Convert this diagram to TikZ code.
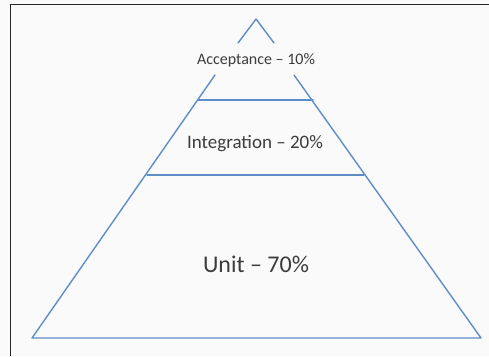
\documentclass[tikz,border=0pt]{standalone}
\usepackage{fontspec}
\setmainfont{Carlito}
\definecolor{pyrblue}{RGB}{96,140,200}
\definecolor{txtgray}{RGB}{60,60,60}
\definecolor{bgwhite}{RGB}{250,250,250}
\tikzset{
  pyr/.style={draw=pyrblue, line width=1.4pt, line cap=round, line join=round},
  lbl/.style={text=txtgray, inner sep=0pt, anchor=center},
  frame/.style={draw=black!85, line width=1.5pt}
}
\begin{document}
\begin{tikzpicture}[x=1pt,y=-1pt]
\useasboundingbox (0,0) rectangle (489,356);
\fill[bgwhite] (0,0) rectangle (489,356);
% frame
\draw[frame] (10.5,356) -- (10.5,4.5) -- (489,4.5);
% corners
\coordinate (apex) at (256,19);
\coordinate (al) at (238,43);
\coordinate (ar) at (274,43);
\coordinate (bl1) at (215,75);
\coordinate (br1) at (294,75);
\coordinate (l1) at (198,100);
\coordinate (r1) at (313,100);
\coordinate (l2) at (147,175);
\coordinate (r2) at (364,175);
\coordinate (bl) at (32,338);
\coordinate (br) at (481,338);
% pyramid
\draw[pyr] (al) -- (apex) -- (ar);
\draw[pyr] (bl1) -- (bl) -- (br) -- (br1);
\draw[pyr] (l1) -- (r1);
\draw[pyr] (l2) -- (r2);
% labels
\node[lbl, font=\fontsize{16}{18}\selectfont] (acc) at (256,60) {Acceptance – 10\%};
\node[lbl, font=\fontsize{19}{22}\selectfont] (int) at (255,144) {Integration – 20\%};
\node[lbl, font=\fontsize{24}{28}\selectfont] (unit) at (256,264) {Unit – 70\%};
\end{tikzpicture}
\end{document}
